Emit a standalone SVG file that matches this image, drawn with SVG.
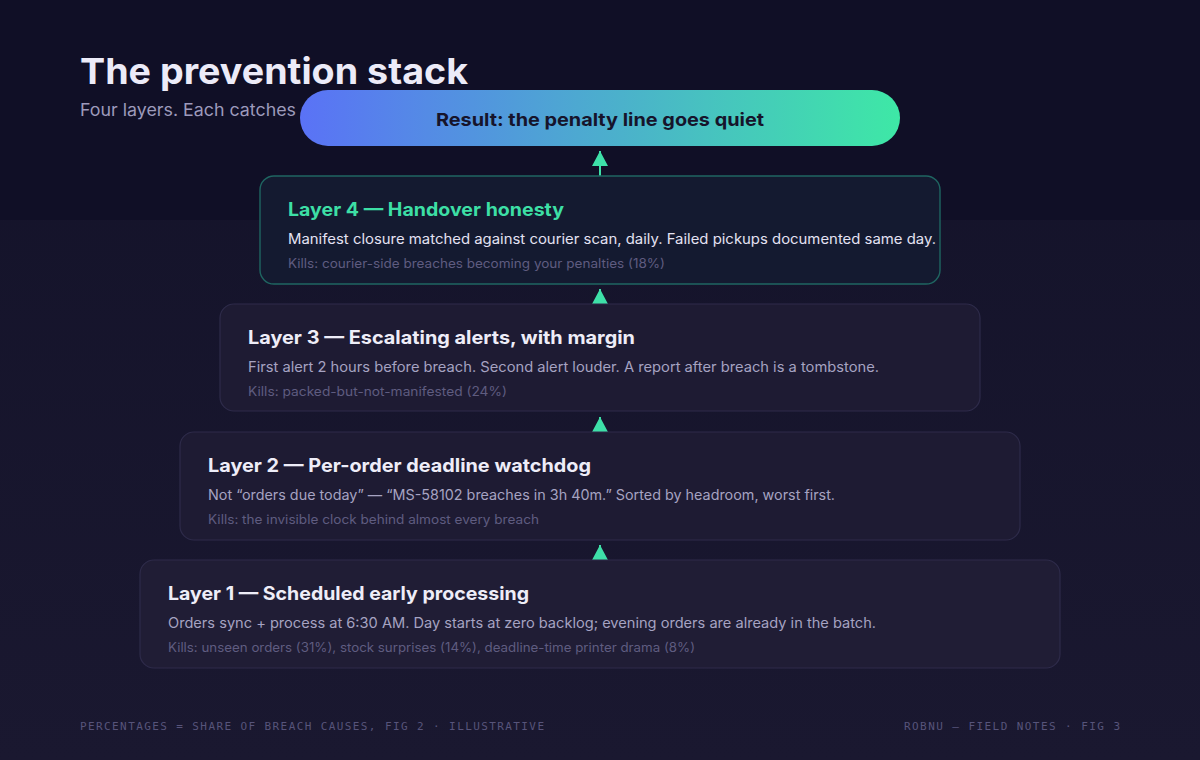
<svg xmlns="http://www.w3.org/2000/svg" width="1200" height="760" viewBox="0 0 1200 760">
  <defs>
    <linearGradient id="bg" x1="0" y1="0" x2="0" y2="1">
      <stop offset="0" stop-color="#131229"/>
      <stop offset="1" stop-color="#1a1830"/>
    </linearGradient>
    <linearGradient id="pill" x1="0" y1="0" x2="1" y2="0">
      <stop offset="0" stop-color="#5a72f6"/>
      <stop offset="1" stop-color="#3ee8a6"/>
    </linearGradient>
    <marker id="arrow" viewBox="0 0 16 16" markerWidth="16" markerHeight="16" refX="15" refY="8" orient="auto" markerUnits="userSpaceOnUse">
      <path d="M0,0 L15,8 L0,16 Z" fill="#3ee0a8"/>
    </marker>
    <style>
      .sans { font-family: Inter, "Noto Sans", "Liberation Sans", sans-serif; }
      .mono { font-family: "DejaVu Sans Mono", "Liberation Mono", monospace; }
      .box { fill: #1e1b33; stroke: #2e2b4a; stroke-width: 1.2; }
      .box4 { fill: #141a30; stroke: #1f6561; stroke-width: 1.4; }
      .ltitle { font-size: 18.5px; font-weight: 700; fill: #eeedf8; }
      .body { font-size: 14px; fill: #a6a3c2; }
      .kills { font-size: 12.5px; fill: #5f5c80; }
      .foot { font-size: 11px; fill: #57547a; }
      .conn { stroke: #3ee0a8; stroke-width: 2; fill: none; }
    </style>
  </defs>

  <rect x="0" y="0" width="1200" height="760" fill="url(#bg)"/>
  <rect x="0" y="0" width="1200" height="220" fill="#100f26"/>

  <g id="header">
    <text class="sans" x="80" y="84" font-size="36" font-weight="700" fill="#ecebf8" textLength="388" lengthAdjust="spacingAndGlyphs">The prevention stack</text>
    <text class="sans" x="80" y="116" font-size="17" fill="#9d9abb" textLength="216" lengthAdjust="spacingAndGlyphs">Four layers. Each catches</text>
  </g>

  <g id="connectors">
    <line class="conn" x1="600" y1="176" x2="600" y2="151" marker-end="url(#arrow)"/>
    <line class="conn" x1="600" y1="304" x2="600" y2="289" marker-end="url(#arrow)"/>
    <line class="conn" x1="600" y1="432" x2="600" y2="417" marker-end="url(#arrow)"/>
    <line class="conn" x1="600" y1="560" x2="600" y2="545" marker-end="url(#arrow)"/>
  </g>

  <g id="result">
    <rect x="300" y="90" width="600" height="56" rx="28" fill="url(#pill)"/>
    <text class="sans" x="600" y="126" text-anchor="middle" font-size="18" font-weight="700" fill="#16142b" textLength="328" lengthAdjust="spacingAndGlyphs">Result: the penalty line goes quiet</text>
  </g>

  <g id="layer4">
    <rect class="box4" x="260" y="176" width="680" height="108" rx="14"/>
    <text class="sans ltitle" x="288" y="216" style="fill:#3ddfa5" textLength="276" lengthAdjust="spacingAndGlyphs">Layer 4 — Handover honesty</text>
    <text class="sans body" x="288" y="244" style="fill:#e4e2f3" textLength="648" lengthAdjust="spacingAndGlyphs">Manifest closure matched against courier scan, daily. Failed pickups documented same day.</text>
    <text class="sans kills" x="288" y="268" textLength="377" lengthAdjust="spacingAndGlyphs">Kills: courier-side breaches becoming your penalties (18%)</text>
  </g>

  <g id="layer3">
    <rect class="box" x="220" y="304" width="760" height="107" rx="14"/>
    <text class="sans ltitle" x="248" y="344" textLength="387" lengthAdjust="spacingAndGlyphs">Layer 3 — Escalating alerts, with margin</text>
    <text class="sans body" x="248" y="372" textLength="631" lengthAdjust="spacingAndGlyphs">First alert 2 hours before breach. Second alert louder. A report after breach is a tombstone.</text>
    <text class="sans kills" x="248" y="396" textLength="259" lengthAdjust="spacingAndGlyphs">Kills: packed-but-not-manifested (24%)</text>
  </g>

  <g id="layer2">
    <rect class="box" x="180" y="432" width="840" height="108" rx="14"/>
    <text class="sans ltitle" x="208" y="472" textLength="383" lengthAdjust="spacingAndGlyphs">Layer 2 — Per-order deadline watchdog</text>
    <text class="sans body" x="208" y="500" textLength="627" lengthAdjust="spacingAndGlyphs">Not “orders due today” — “MS-58102 breaches in 3h 40m.” Sorted by headroom, worst first.</text>
    <text class="sans kills" x="208" y="524" textLength="331" lengthAdjust="spacingAndGlyphs">Kills: the invisible clock behind almost every breach</text>
  </g>

  <g id="layer1">
    <rect class="box" x="140" y="560" width="920" height="108" rx="14" style="fill:#201d35"/>
    <text class="sans ltitle" x="168" y="600" textLength="361" lengthAdjust="spacingAndGlyphs">Layer 1 — Scheduled early processing</text>
    <text class="sans body" x="168" y="628" textLength="708" lengthAdjust="spacingAndGlyphs">Orders sync + process at 6:30 AM. Day starts at zero backlog; evening orders are already in the batch.</text>
    <text class="sans kills" x="168" y="652" textLength="527" lengthAdjust="spacingAndGlyphs">Kills: unseen orders (31%), stock surprises (14%), deadline-time printer drama (8%)</text>
  </g>

  <g id="footer">
    <text class="mono foot" x="80" y="730" textLength="464" lengthAdjust="spacing">PERCENTAGES = SHARE OF BREACH CAUSES, FIG 2 · ILLUSTRATIVE</text>
    <text class="mono foot" x="1120" y="730" text-anchor="end" textLength="216" lengthAdjust="spacing">ROBNU — FIELD NOTES · FIG 3</text>
  </g>
</svg>
